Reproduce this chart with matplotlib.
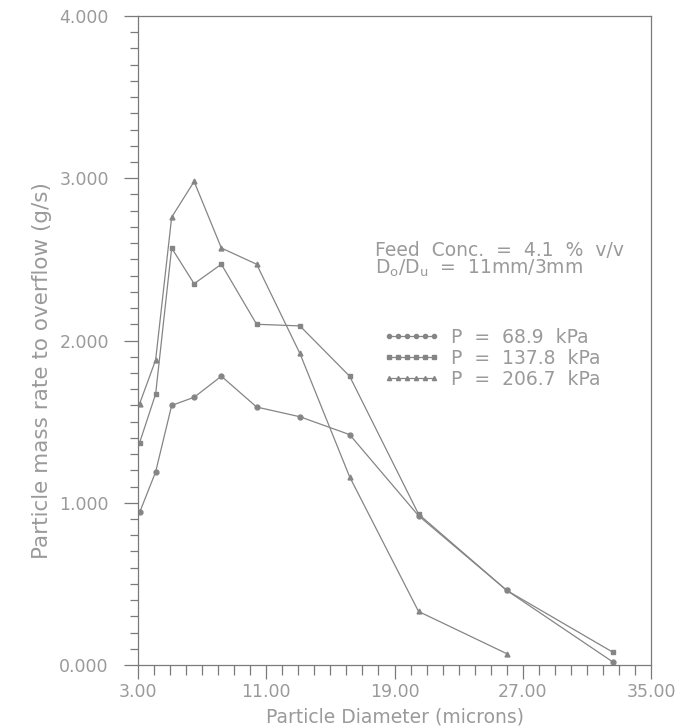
# =========================================================
# PARTICLE MASS RATE TO OVERFLOW vs PARTICLE DIAMETER
# Hydrocyclone runs at three feed pressures
# =========================================================

import numpy as np
import matplotlib.pyplot as plt
from matplotlib.ticker import MultipleLocator, FixedLocator, FormatStrFormatter


# =========================
# 1. DATA
# =========================

# particle diameter classes (microns)
diameter = [3.1, 4.1, 5.1, 6.5, 8.2, 10.4, 13.1, 16.2, 20.5, 26.0, 32.6]

# mass rate to overflow (g/s)
rate_68 = [0.94, 1.19, 1.60, 1.65, 1.78, 1.59, 1.53, 1.42, 0.92, 0.46, 0.02]
rate_137 = [1.37, 1.67, 2.57, 2.35, 2.47, 2.10, 2.09, 1.78, 0.93, 0.46, 0.08]
rate_206 = [1.61, 1.88, 2.76, 2.98, 2.57, 2.47, 1.92, 1.16, 0.33, 0.07]

labels = ["P  =  68.9  kPa", "P  =  137.8  kPa", "P  =  206.7  kPa"]
markers = ["o", "s", "^"]

x_major = [3, 11, 19, 27, 35]

note_lines = ["Feed  Conc.  =  4.1  %  v/v",
              r"D$_o$/D$_u$  =  11mm/3mm"]


# =========================
# 2. STYLE
# =========================

plt.rcParams['font.family'] = ['DejaVu Sans']
plt.rcParams['mathtext.default'] = 'regular'

LINE_C = '#858585'
TEXT_C = '#9a9a9a'
AXIS_C = '#7a7a7a'


# =========================
# 3. FIGURE
# =========================

fig = plt.figure(figsize=(6.76, 7.27), dpi=100)
ax = fig.add_axes([138/676, 62/727, 513/676, 649/727])

series = [rate_68, rate_137, rate_206]
for vals, lab, mk in zip(series, labels, markers):
    ax.plot(diameter[:len(vals)], vals, color=LINE_C, linewidth=0.9,
            marker=mk, markersize=3.5, markerfacecolor=LINE_C,
            markeredgecolor=LINE_C, label=lab)

ax.set_xlim(3, 35)
ax.set_ylim(0, 4)

ax.xaxis.set_major_locator(FixedLocator(x_major))
ax.xaxis.set_minor_locator(MultipleLocator(1))
ax.yaxis.set_major_locator(MultipleLocator(1))
ax.yaxis.set_minor_locator(MultipleLocator(0.1))
ax.xaxis.set_major_formatter(FormatStrFormatter('%.2f'))
ax.yaxis.set_major_formatter(FormatStrFormatter('%.3f'))

ax.tick_params(axis='both', which='both', direction='out', color=AXIS_C,
               width=0.9, labelcolor=TEXT_C, labelsize=12.5,
               top=False, right=False)
ax.tick_params(axis='y', which='major', length=10, pad=11)
ax.tick_params(axis='y', which='minor', length=6)
ax.tick_params(axis='x', which='major', length=10, pad=3)
ax.tick_params(axis='x', which='minor', length=7)

for sp in ax.spines.values():
    sp.set_color(AXIS_C)
    sp.set_linewidth(0.9)


# =========================
# 4. LABELS
# =========================

ax.set_xlabel("Particle Diameter (microns)", fontsize=13.5, color=TEXT_C)
ax.set_ylabel("Particle mass rate to overflow (g/s)", fontsize=15.5,
              color=TEXT_C)
ax.xaxis.label.set_va('center')
ax.yaxis.label.set_va('center')
ax.xaxis.set_label_coords(0.5, -0.08)
ax.yaxis.set_label_coords(-0.187, 0.453)


# =========================
# 5. ANNOTATION AND LEGEND
# =========================

ax.text(0.462, 0.639, note_lines[0], transform=ax.transAxes,
        fontsize=13.5, color=TEXT_C, va='center', ha='left')
ax.text(0.462, 0.611, note_lines[1], transform=ax.transAxes,
        fontsize=13.5, color=TEXT_C, va='center', ha='left')

leg = ax.legend(loc='upper left', bbox_to_anchor=(0.478, 0.52),
                frameon=False, numpoints=6, handlelength=3.0,
                handletextpad=0.6, labelspacing=0.12, borderpad=0,
                borderaxespad=0, fontsize=13.5, markerscale=0.85)
for t in leg.get_texts():
    t.set_color(TEXT_C)

fig.savefig("out.png", dpi=100)
